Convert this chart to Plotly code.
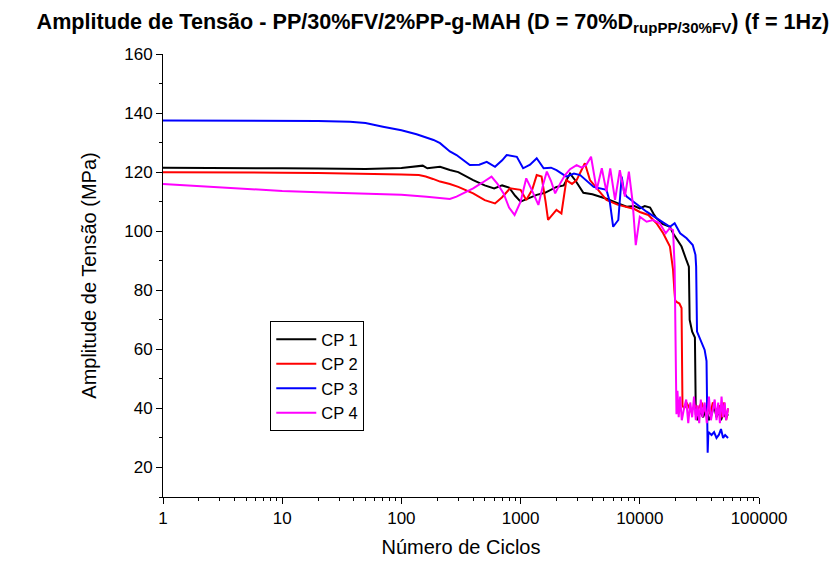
import plotly.graph_objects as go

# CP 1
cp1_n = [1, 2, 5, 10, 20, 50, 100, 130, 151, 165, 211, 255, 300, 400, 500, 600, 700, 800, 900, 1000,
         1150, 1365, 1600, 2000, 2300, 2600, 2900, 3360, 4000, 5250, 6500, 7760, 9000, 10000, 11000,
         12200, 13000, 13800, 15500, 17900, 19000, 20500, 22400, 24700, 25800, 26200, 27500, 29000,
         29500, 30500, 32000, 34000, 36000, 38000, 40000, 42000, 44000, 46000, 48000, 50000, 53000, 55000]
cp1_v = [121.5, 121.5, 121.4, 121.3, 121.2, 121.1, 121.4, 121.9, 122.2, 121.3, 121.8, 120.7, 120.0, 117.3,
         115.5, 114.5, 115.5, 114.8, 112.0, 110.0, 111.0, 112.3, 113.0, 115.0, 115.5, 119.5, 117.0,
         113.0, 112.5, 111.0, 109.5, 108.3, 108.5, 107.7, 108.5, 108.0, 106.0, 104.4, 102.5, 101.5,
         99.3, 97.0, 94.8, 90.0, 88.0, 70.0, 66.0, 64.0, 38.0, 36.0, 39.0, 37.0, 40.0, 36.0, 38.0,
         41.0, 37.0, 39.0, 36.0, 38.0, 37.0, 38.0]

# CP 2
cp2_n = [1, 2, 5, 10, 20, 50, 100, 140, 160, 184, 211, 255, 300, 400, 500, 610, 700, 815, 1000, 1115,
         1250, 1365, 1500, 1620, 1700, 2000, 2200, 2420, 2700, 2950, 3200, 3460, 3820, 4500, 5250,
         6500, 7760, 9000, 10000, 11800, 13800, 15700, 17900, 19000, 19500, 19800, 20500, 21500,
         22400, 22800, 23500, 25000, 27000, 29000, 31000, 33000, 35000, 37000, 39000, 41000, 43000,
         45000, 47000, 49000, 51000, 53000, 55000]
cp2_v = [120.0, 120.0, 119.9, 119.8, 119.7, 119.5, 119.2, 119.0, 118.5, 117.7, 116.8, 116.0, 115.0,
         112.8, 110.5, 109.4, 111.5, 114.5, 114.0, 110.6, 114.0, 119.0, 118.5, 110.0, 103.8, 107.2,
         106.0, 117.3, 116.0, 117.3, 120.0, 123.0, 117.3, 114.0, 110.6, 109.0, 108.3, 107.5, 106.5,
         105.5, 102.7, 99.3, 94.8, 87.0, 80.0, 76.5, 76.0, 75.5, 74.0, 41.0, 40.0, 41.5, 39.0, 41.0,
         40.0, 42.0, 39.0, 41.0, 38.0, 42.0, 40.0, 39.0, 41.0, 37.0, 42.0, 36.0, 40.0]

# CP 3
cp3_n = [1, 2, 5, 10, 20, 37, 50, 70, 100, 134, 160, 186, 211, 255, 290, 330, 375, 450, 520, 610, 700,
         764, 930, 1050, 1200, 1365, 1560, 1800, 2000, 2420, 2800, 3160, 3600, 4100, 5250, 5600, 5980,
         6600, 7050, 7400, 7760, 10000, 11400, 13800, 15500, 17900, 19600, 21800, 24700, 27800, 29300,
         29700, 30200, 33000, 35000, 36300, 36700, 37100, 37600, 40000, 42000, 44000, 46000, 48000,
         50000, 52000, 55000]
cp3_v = [137.5, 137.5, 137.5, 137.4, 137.3, 137.1, 136.6, 135.4, 134.2, 132.8, 131.8, 130.9, 129.8,
         127.0, 125.8, 124.0, 122.4, 122.5, 123.5, 121.8, 124.0, 125.8, 125.2, 121.3, 122.5, 124.7,
         121.3, 121.5, 120.7, 118.5, 119.5, 119.0, 117.0, 115.0, 114.0, 110.0, 101.5, 103.8, 118.5,
         113.0, 111.7, 108.3, 106.6, 104.4, 103.0, 101.5, 102.7, 99.3, 97.6, 95.3, 92.0, 88.0, 66.0,
         62.0, 59.8, 56.0, 32.0, 25.0, 32.0, 31.0, 32.0, 30.0, 31.0, 33.0, 30.0, 31.0, 30.0]

# CP 4
cp4_n = [1, 2, 5, 10, 20, 50, 70, 100, 163, 211, 255, 290, 340, 400, 480, 570, 640, 720, 800, 890,
         1000, 1115, 1240, 1410, 1550, 1660, 1800, 1950, 2150, 2360, 2600, 2950, 3250, 3550, 3900,
         4350, 4800, 5250, 5650, 6200, 6800, 7500, 8100, 8700, 9250, 10000, 11400, 12900, 14700,
         16500, 17800, 19000, 19600, 20000, 20300, 20700, 21200, 21800, 22500, 23500, 24500, 25500,
         26500, 27500, 28500, 29500, 30500, 31500, 32500, 33500, 35000, 36500, 38000, 39500, 41000,
         42500, 44000, 45500, 47000, 48500, 50000, 51500, 53000, 55000]
cp4_v = [116.0, 115.3, 114.3, 113.6, 113.2, 112.7, 112.5, 112.3, 111.7, 111.2, 110.9, 111.7, 113.0,
         114.5, 116.5, 118.5, 116.0, 112.8, 108.0, 105.5, 110.0, 117.9, 114.0, 108.9, 116.0, 120.2,
         117.0, 112.8, 116.2, 119.0, 121.0, 122.4, 121.5, 122.4, 125.2, 114.0, 121.3, 113.4, 121.3,
         110.6, 120.7, 111.7, 120.2, 110.0, 95.3, 104.9, 103.2, 103.8, 102.7, 99.3, 101.0, 100.4,
         88.0, 60.0, 38.0, 46.0, 37.0, 44.0, 36.0, 40.0, 43.0, 35.0, 42.0, 37.0, 44.0, 36.0, 41.0,
         35.0, 43.0, 37.0, 42.0, 35.0, 44.0, 36.0, 40.0, 43.0, 36.0, 42.0, 35.0, 44.0, 37.0, 42.0,
         36.0, 40.0]

series = [
    ("CP 1", cp1_n, cp1_v, "#000000"),
    ("CP 2", cp2_n, cp2_v, "#FF0000"),
    ("CP 3", cp3_n, cp3_v, "#0000FF"),
    ("CP 4", cp4_n, cp4_v, "#FF00FF"),
]

decades = [1, 10, 100, 1000, 10000, 100000]
decade_labels = ["1", "10", "100", "1000", "10000", "100000"]
minor_x = [m * d for d in decades[:-1] for m in range(2, 10)]

FONT = "Liberation Sans, Arial, sans-serif"

fig = go.Figure()
for name, n, v, color in series:
    fig.add_trace(go.Scatter(x=n, y=v, mode="lines", name=name,
                             line=dict(color=color, width=2)))

fig.update_layout(
    width=834, height=562,
    margin=dict(l=163, r=75, t=54, b=65),
    paper_bgcolor="white", plot_bgcolor="white",
    font=dict(family=FONT, color="black", size=17),
    title=dict(
        text="<b>Amplitude de Tensão - PP/30%FV/2%PP-g-MAH (D = 70%D<sub>rupPP/30%FV</sub>) (f = 1Hz)</b>",
        x=0.519, xanchor="center", y=0.962, yanchor="middle",
        font=dict(family=FONT, size=21.6, color="black"),
    ),
    showlegend=True,
    legend=dict(
        x=0.18, y=0.397, xanchor="left", yanchor="top",
        bordercolor="black", borderwidth=1, bgcolor="white",
        font=dict(family=FONT, size=16.5, color="black"),
        tracegroupgap=0, itemwidth=40,
    ),
)

fig.update_xaxes(
    type="log", range=[0, 5], automargin=False,
    tickvals=decades, ticktext=decade_labels,
    ticks="outside", ticklen=6, tickwidth=1, tickcolor="black",
    minor=dict(tickvals=minor_x, ticks="outside", ticklen=3, tickcolor="black", tickwidth=1),
    showline=True, linecolor="black", linewidth=1,
    showgrid=False, zeroline=False, mirror=False,
    tickfont=dict(family=FONT, size=17),
    title=dict(text="Número de Ciclos", font=dict(family=FONT, size=20), standoff=12),
)

fig.update_yaxes(
    range=[10, 160], automargin=False,
    tickvals=[20, 40, 60, 80, 100, 120, 140, 160],
    ticks="outside", ticklen=6, tickwidth=1, tickcolor="black",
    minor=dict(tickvals=[10, 30, 50, 70, 90, 110, 130, 150], ticks="outside", ticklen=3,
               tickcolor="black", tickwidth=1),
    showline=True, linecolor="black", linewidth=1,
    showgrid=False, zeroline=False, mirror=False,
    tickfont=dict(family=FONT, size=17),
    title=dict(text="Amplitude de Tensão (MPa)", font=dict(family=FONT, size=20), standoff=22),
)

fig.write_html("out.html")
